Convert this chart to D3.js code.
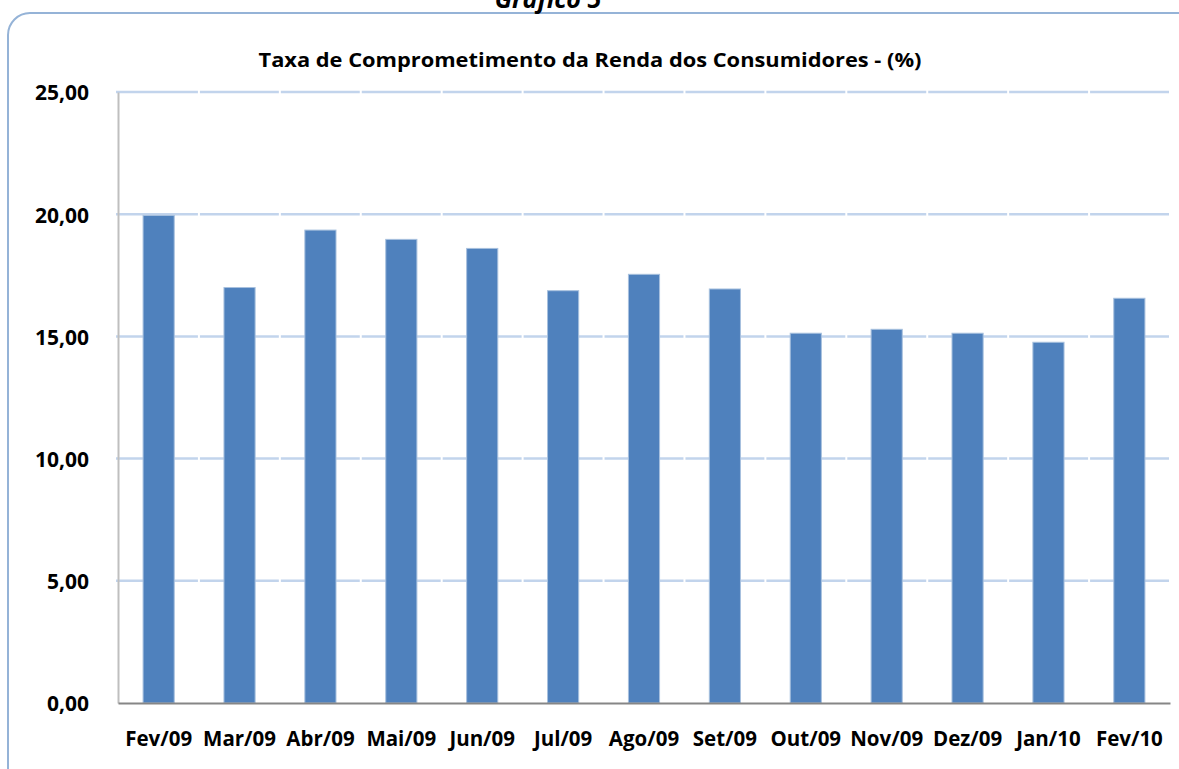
<!DOCTYPE html>
<html>
<head>
<meta charset="utf-8">
<script src="https://cdn.jsdelivr.net/npm/d3@7"></script>
<style>
  body { margin: 0; background: #fff; }
  text { font-family: "Open Sans", Lato, sans-serif; font-weight: bold; fill: #000; }
</style>
</head>
<body>
<div id="my_dataviz"></div>
<script>
// months and commitment rate (%)
const months = ["Fev/09", "Mar/09", "Abr/09", "Mai/09", "Jun/09", "Jul/09", "Ago/09",
    "Set/09", "Out/09", "Nov/09", "Dez/09", "Jan/10", "Fev/10"];
const taxa = [19.95, 17.0, 19.35, 18.97, 18.6, 16.87, 17.54, 16.94, 15.13, 15.29, 15.13, 14.76, 16.56];
const yTicks = [0, 5, 10, 15, 20, 25];
const chartTitle = "Taxa de Comprometimento  da Renda dos Consumidores - (%)";
const pageTitle = "Gráfico 5";

const W = 1179, H = 769;
const margin = { top: 92, right: 9, bottom: 66, left: 118 },
    width = W - margin.left - margin.right,
    height = H - margin.top - margin.bottom;

const svg = d3.select("#my_dataviz")
    .append("svg")
    .attr("width", W)
    .attr("height", H);

// outer rounded frame
svg.append("rect")
    .attr("x", 8).attr("y", 13)
    .attr("width", 1195).attr("height", 790)
    .attr("rx", 22)
    .attr("fill", "none")
    .attr("stroke", "#95B3D7")
    .attr("stroke-width", 2);

// heading, mostly above the top edge as in the source
svg.append("text")
    .attr("x", 548).attr("y", 8)
    .attr("text-anchor", "middle")
    .style("font-size", "25px")
    .style("font-style", "italic")
    .text(pageTitle);

svg.append("text")
    .attr("x", 590).attr("y", 67)
    .attr("text-anchor", "middle")
    .attr("textLength", 663)
    .attr("lengthAdjust", "spacingAndGlyphs")
    .style("font-size", "19.5px")
    .text(chartTitle);

const chart = svg.append("g")
    .attr("transform", `translate(${margin.left},${margin.top})`);

const x = d3.scaleBand()
    .domain(months)
    .range([0, width])
    .paddingInner(0.615)
    .paddingOuter(0.31);

const y = d3.scaleLinear()
    .domain([0, 25])
    .range([height, 0]);

// gridlines, broken at each category boundary
const step = width / months.length;
yTicks.filter(t => t > 0).forEach(function (t) {
    chart.append("g")
        .selectAll("line")
        .data(months)
        .join("line")
        .attr("x1", (d, i) => i * step + (i === 0 ? -2 : 1))
        .attr("x2", (d, i) => (i + 1) * step - 1)
        .attr("y1", y(t))
        .attr("y2", y(t))
        .attr("stroke", "#C2D4EC")
        .attr("stroke-width", 2.5);
});

// bars
chart.selectAll(".bar")
    .data(taxa)
    .join("rect")
    .attr("class", "bar")
    .attr("x", (d, i) => x(months[i]))
    .attr("width", x.bandwidth())
    .attr("y", d => y(d))
    .attr("height", d => y(0) - y(d))
    .attr("fill", "#4F81BD")
    .attr("stroke", "#A7C0DE")
    .attr("stroke-width", 1);

// y axis
const yAxis = chart.append("g")
    .call(d3.axisLeft(y).tickValues(yTicks).tickSize(0).tickPadding(29)
        .tickFormat(d => d3.format(".2f")(d).replace(".", ",")));
yAxis.select(".domain").attr("stroke", "#BFBFBF").attr("stroke-width", 2);
yAxis.selectAll("text").style("font-size", "21px").attr("dy", "0.38em");

// x axis
const xAxis = chart.append("g")
    .attr("transform", `translate(0, ${height})`)
    .call(d3.axisBottom(x).tickSize(0).tickPadding(28));
xAxis.select(".domain").attr("stroke", "#868686").attr("stroke-width", 2);
xAxis.selectAll("text").style("font-size", "20.5px");
</script>
</body>
</html>
